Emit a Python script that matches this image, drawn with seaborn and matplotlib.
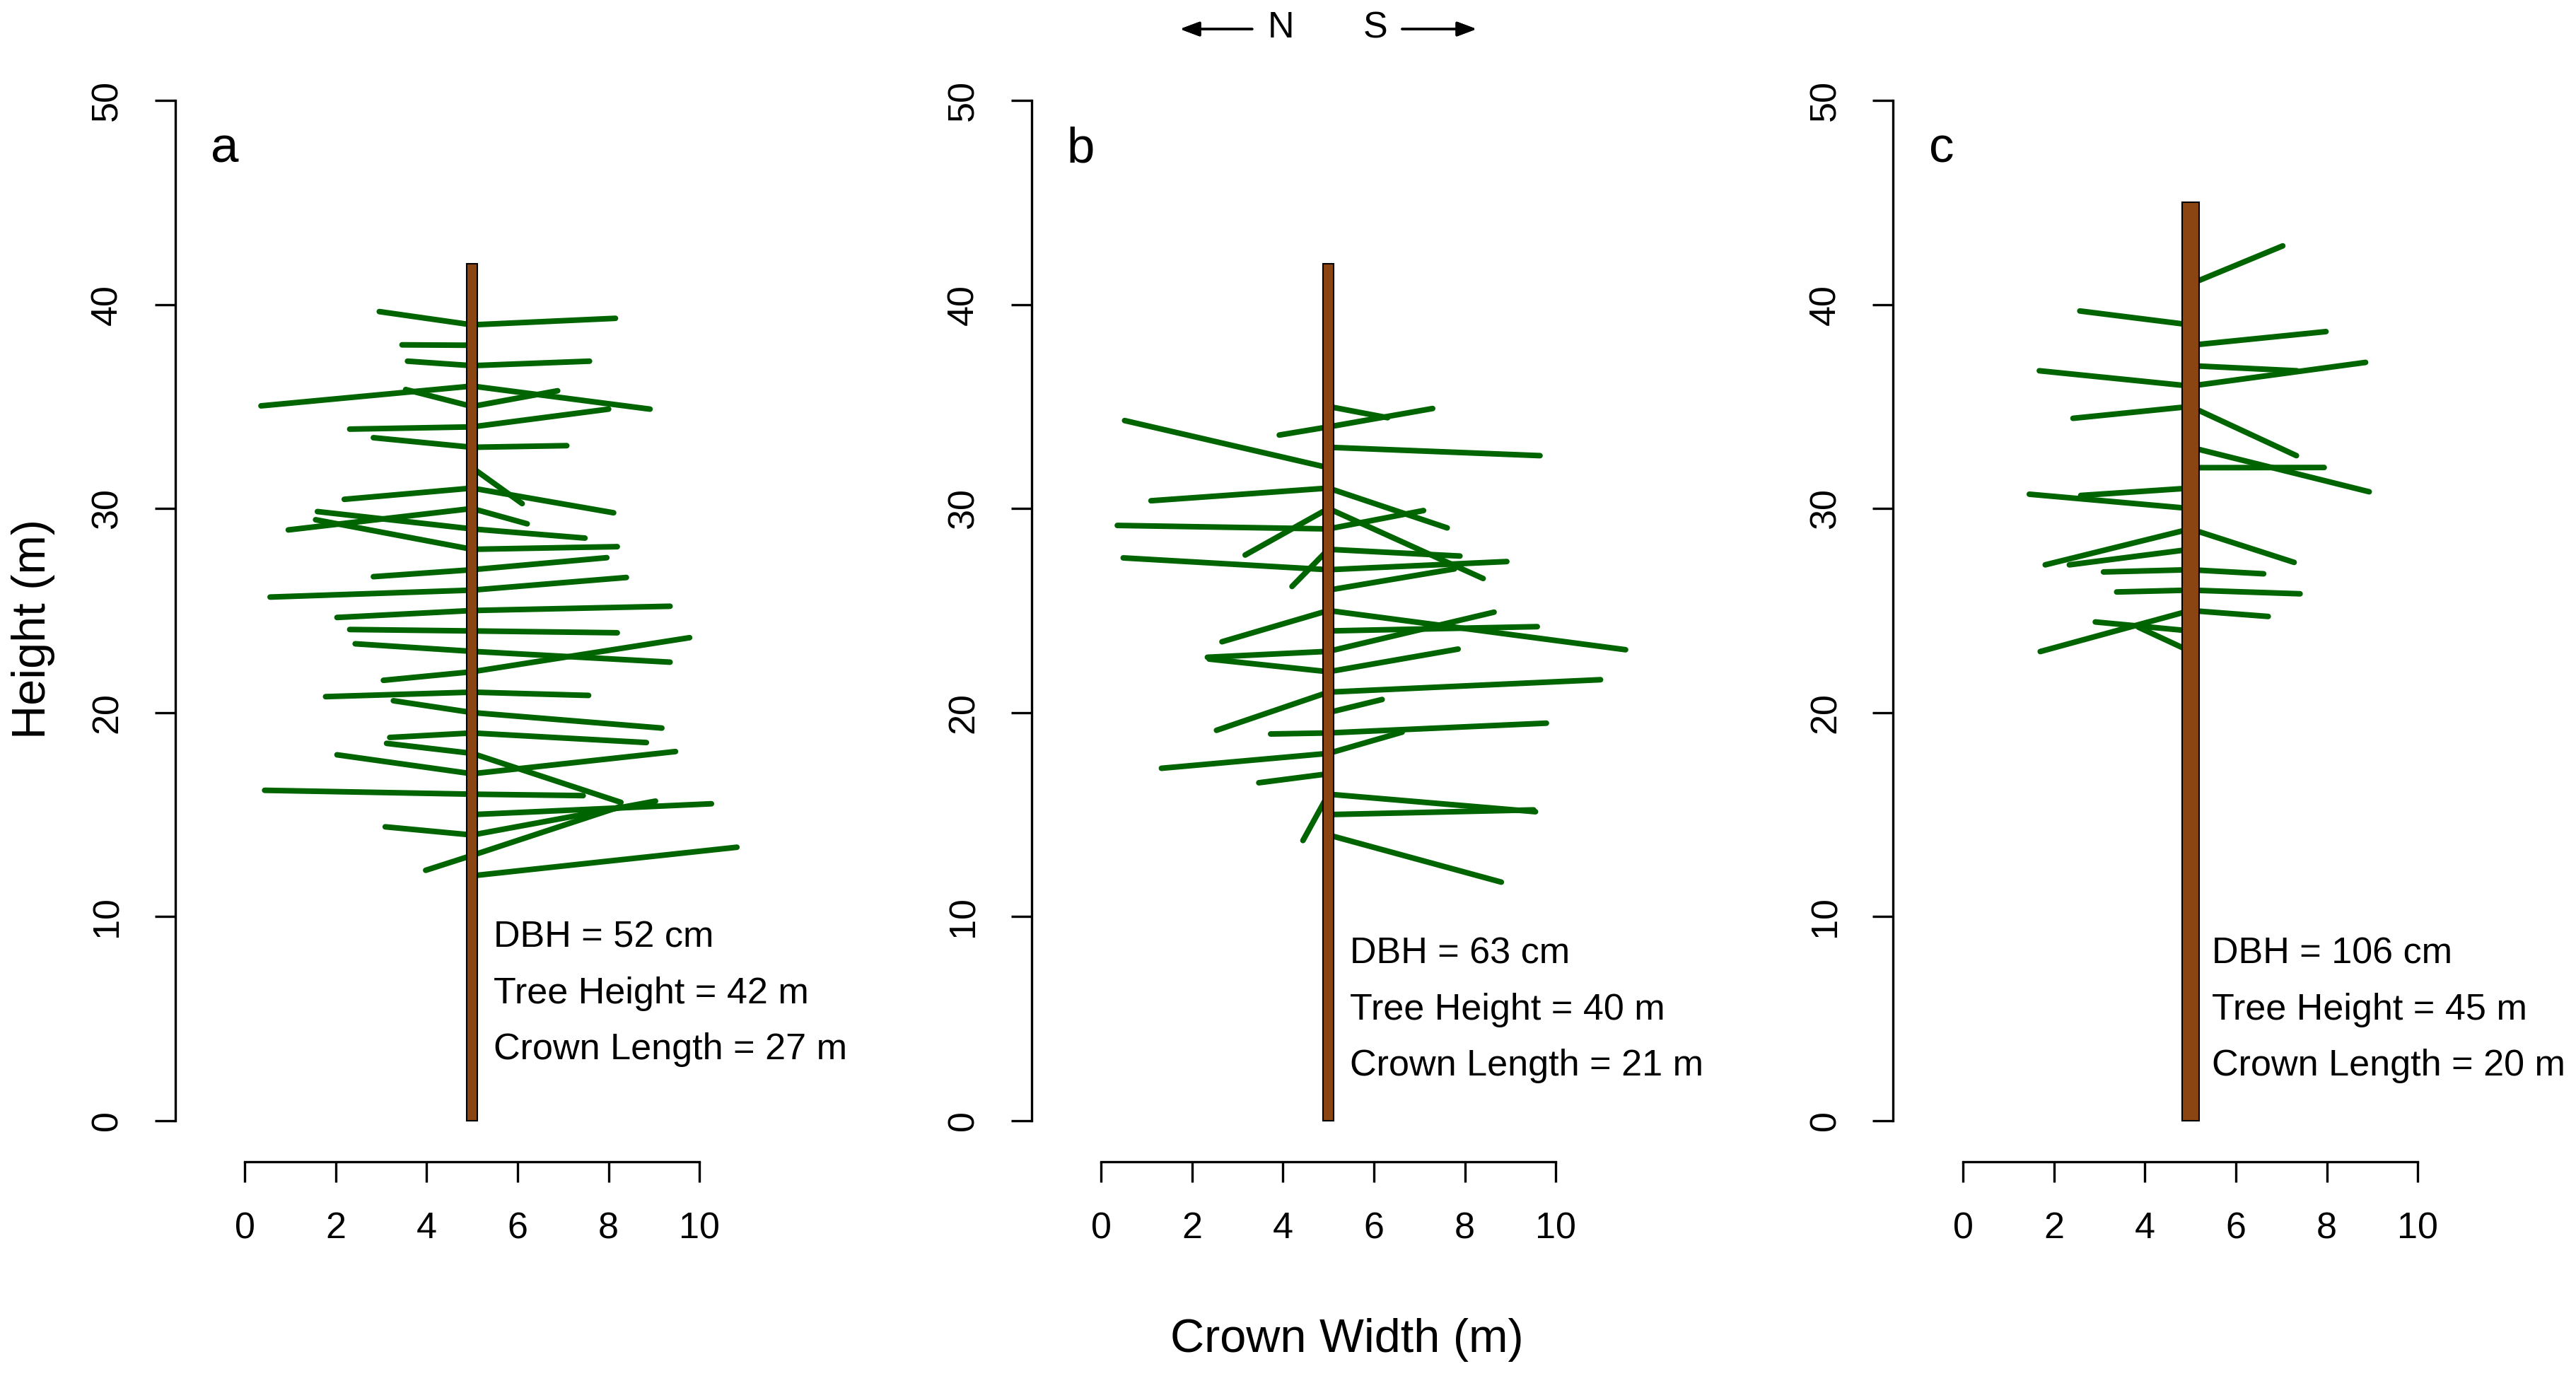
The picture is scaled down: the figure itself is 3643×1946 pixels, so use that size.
import pandas as pd
import matplotlib.pyplot as plt
import seaborn as sns

# Datos de ramas: altura de insercion en el tronco (x = 5) y punta de la rama
a_base = [39, 38, 37, 36, 35, 34, 33, 31, 30, 29, 28, 27, 26, 25, 24, 23, 22, 21, 20, 19, 18, 17, 16, 14, 13,
          39, 37, 36, 35, 34, 33, 32, 31, 30, 29, 28, 27, 26, 25, 24, 23, 22, 21, 20, 19, 18, 17, 16, 15, 14, 13, 12]
a_tip_x = [2.96, 3.46, 3.58, 0.36, 3.54, 2.31, 2.83, 2.19, 0.96, 1.60, 1.56, 2.83, 0.56, 2.03, 2.31, 2.43, 3.05,
           1.78, 3.27, 3.19, 3.12, 2.03, 0.44, 3.09, 3.98,
           8.15, 7.58, 8.91, 6.88, 8.00, 7.08, 6.10, 8.11, 6.21, 7.48, 8.19, 7.96, 8.39, 9.35, 8.19, 9.35, 9.78,
           7.56, 9.17, 8.83, 8.27, 9.47, 7.44, 10.26, 9.03, 8.27, 10.82]
a_tip_y = [39.65, 38.02, 37.22, 35.03, 35.83, 33.89, 33.47, 30.45, 28.95, 29.85, 29.45, 26.66, 25.66, 24.66,
           24.07, 23.37, 21.58, 20.78, 20.58, 18.78, 18.49, 17.93, 16.19, 14.40, 12.27,
           39.32, 37.22, 34.87, 35.77, 34.87, 33.08, 30.24, 29.79, 29.25, 28.55, 28.13, 27.59, 26.62, 25.21,
           23.91, 22.47, 23.67, 20.84, 19.24, 18.53, 15.60, 18.09, 15.93, 15.53, 15.66, 15.40, 13.40]

b_base = [34, 32, 31, 30, 29, 28, 27, 25, 23, 22, 21, 19, 18, 17, 16,
          35, 34, 33, 31, 30, 29, 28, 27, 26, 25, 24, 23, 22, 21, 20, 19, 18, 16, 15, 14]
b_tip_x = [3.92, 0.52, 1.10, 3.17, 0.36, 4.20, 0.49, 2.66, 2.34, 2.38, 2.54, 3.73, 1.33, 3.47, 4.44,
           6.30, 7.29, 9.65, 7.61, 8.40, 7.09, 7.89, 8.92, 7.77, 11.53, 9.59, 8.64, 7.85, 10.98, 6.18, 9.79,
           6.62, 9.55, 9.51, 8.80]
b_tip_y = [33.60, 34.31, 30.38, 27.72, 29.17, 26.18, 27.58, 23.47, 22.71, 22.62, 19.13, 18.95, 17.27, 16.56,
           13.73,
           34.45, 34.90, 32.59, 29.05, 26.57, 29.90, 27.67, 27.40, 27.04, 23.08, 24.21, 24.92, 23.11, 21.61,
           20.64, 19.48, 19.04, 15.14, 15.23, 11.69]

c_base = [39, 36, 35, 31, 30, 29, 28, 27, 26, 25, 24, 23,
          41, 38, 37, 36, 35, 33, 32, 29, 27, 26, 25]
c_tip_x = [2.57, 1.68, 2.42, 2.59, 1.46, 1.81, 2.34, 3.09, 3.38, 1.70, 2.91, 3.86,
           7.03, 7.98, 7.34, 8.85, 7.33, 8.93, 7.94, 7.28, 6.61, 7.41, 6.71]
c_tip_y = [39.68, 36.75, 34.42, 30.64, 30.70, 27.24, 27.24, 26.89, 25.91, 22.99, 24.44, 24.18,
           42.87, 38.67, 36.75, 37.16, 32.59, 30.82, 32.01, 27.36, 26.80, 25.82, 24.71]

tree_top = [42, 42, 45]
dbh = [52, 63, 106]
tree_height = [42, 40, 45]
crown_length = [27, 21, 20]
panel_letters = ["a", "b", "c"]

TRUNK_X = 5
TRUNK_WIDTH = [0.24, 0.24, 0.37]
BRANCH_COLOR = "#006400"
TRUNK_COLOR = "#8B4513"

sns.set_style("ticks")
plt.rcParams["font.family"] = ["Liberation Sans", "DejaVu Sans"]
plt.rcParams["text.color"] = "black"
plt.rcParams["axes.labelcolor"] = "black"

fig = plt.figure(figsize=(3643 / 300, 1946 / 300), dpi=300)

# posiciones de los paneles (fraccion de figura)
lefts = [0.06794, 0.40036, 0.73497]
text_y = [8.5, 7.7, 7.7]

ramas = [(a_base, a_tip_x, a_tip_y), (b_base, b_tip_x, b_tip_y), (c_base, c_tip_x, c_tip_y)]

for i, (base, tx, ty) in enumerate(ramas):
    ax = fig.add_axes([lefts[i], 0.1559, 0.2660, 0.8008])

    # tabla larga: dos puntos por rama
    filas = []
    for j in range(len(base)):
        filas.append({"x": TRUNK_X, "y": base[j], "rama": j})
        filas.append({"x": tx[j], "y": ty[j], "rama": j})
    df = pd.DataFrame(filas)

    sns.lineplot(data=df, x="x", y="y", units="rama", estimator=None, sort=False,
                 color=BRANCH_COLOR, linewidth=1.9, solid_capstyle="round",
                 legend=False, ax=ax, zorder=2)

    # tronco
    ax.bar(TRUNK_X, tree_top[i], width=TRUNK_WIDTH[i], bottom=0, color=TRUNK_COLOR,
           edgecolor="black", linewidth=0.5, zorder=3)

    ax.set_xlim(-1.53, 13.53)
    ax.set_ylim(-2, 52)
    ax.set_xticks([0, 2, 4, 6, 8, 10])
    ax.set_yticks([0, 10, 20, 30, 40, 50])
    ax.set_xlabel("")
    ax.set_ylabel("")

    ax.spines[["top", "right"]].set_visible(False)
    ax.spines["left"].set_bounds(0, 50)
    ax.spines["bottom"].set_bounds(0, 10)
    for s in ["left", "bottom"]:
        ax.spines[s].set_linewidth(0.8)
        ax.spines[s].set_color("black")

    ax.tick_params(direction="out", length=7, width=0.8, colors="black",
                   labelsize=12.5, pad=10)
    ax.tick_params(axis="y", labelrotation=90)
    for lab in ax.get_yticklabels():
        lab.set_va("center")

    ax.text(-0.75, 46.95, panel_letters[i], fontsize=17, ha="left", va="baseline")

    ax.text(5.47, text_y[i], f"DBH = {dbh[i]} cm", fontsize=12.5, ha="left", va="baseline")
    ax.text(5.47, text_y[i] - 2.74, f"Tree Height = {tree_height[i]} m", fontsize=12.5,
            ha="left", va="baseline")
    ax.text(5.47, text_y[i] - 5.48, f"Crown Length = {crown_length[i]} m", fontsize=12.5,
            ha="left", va="baseline")

# etiquetas comunes
fig.text(0.013, 0.543, "Height (m)", rotation=90, ha="center", va="center", fontsize=16)
fig.text(0.523, 0.0175, "Crown Width (m)", ha="center", va="baseline", fontsize=16)

# flechas N / S
flecha = dict(arrowstyle="-|>,head_length=0.4,head_width=0.15", lw=0.8, color="black",
              mutation_scale=14, shrinkA=0, shrinkB=0)
fig.add_artist(plt.annotate("", xy=(0.4581, 0.9789), xytext=(0.4861, 0.9789),
                            xycoords="figure fraction", arrowprops=flecha))
fig.add_artist(plt.annotate("", xy=(0.5732, 0.9789), xytext=(0.5443, 0.9789),
                            xycoords="figure fraction", arrowprops=flecha))
fig.text(0.4974, 0.9726, "N", ha="center", va="baseline", fontsize=12.5)
fig.text(0.5339, 0.9726, "S", ha="center", va="baseline", fontsize=12.5)

plt.savefig("out.png", dpi=300)
plt.close()
